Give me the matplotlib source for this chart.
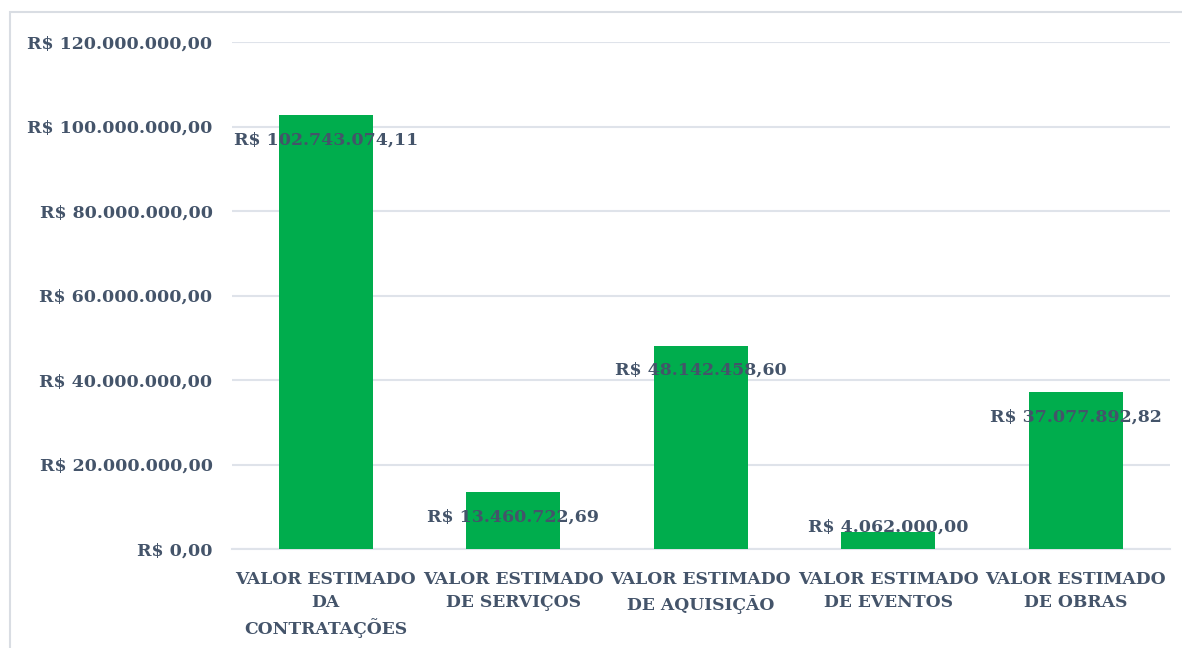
import numpy as np
import matplotlib
matplotlib.use("Agg")
import matplotlib.pyplot as plt
from matplotlib.patches import Rectangle

# dados
categorias = ["VALOR ESTIMADO\nDA\nCONTRATAÇÕES", "VALOR ESTIMADO\nDE SERVIÇOS",
              "VALOR ESTIMADO\nDE AQUISIÇÃO", "VALOR ESTIMADO\nDE EVENTOS",
              "VALOR ESTIMADO\nDE OBRAS"]
valores = [102743074.11, 13460722.69, 48142458.60, 4062000.00, 37077892.82]
rotulos = ["R$ 102.743.074,11", "R$ 13.460.722,69", "R$ 48.142.458,60",
           "R$ 4.062.000,00", "R$ 37.077.892,82"]
ticks_y = [0, 20e6, 40e6, 60e6, 80e6, 100e6, 120e6]
ticks_y_txt = ["R$ 0,00", "R$ 20.000.000,00", "R$ 40.000.000,00", "R$ 60.000.000,00",
               "R$ 80.000.000,00", "R$ 100.000.000,00", "R$ 120.000.000,00"]

cor_txt = "#44546a"
cor_grade = "#dfe3ea"
fonte = "DejaVu Serif"
tam = 12.5

fig = plt.figure(figsize=(11.82, 6.48), dpi=100)
ax = fig.add_axes([232/1182, 1 - 549/648, (1169.5-232)/1182, (549-42)/648])

x = np.arange(len(valores))
ax.bar(x, valores, width=0.5, color="#00ad4d", zorder=3)
ax.set_xlim(-0.5, len(valores) - 0.5)
ax.set_ylim(0, 120e6)

ax.set_yticks(ticks_y)
ax.set_yticklabels(ticks_y_txt, fontsize=tam, fontweight="bold", color=cor_txt, family=fonte)
ax.set_xticks(x)
ax.set_xticklabels(categorias, fontsize=12.3, fontweight="bold", color=cor_txt,
                   family=fonte, linespacing=1.45)
ax.tick_params(axis="both", length=0)
ax.tick_params(axis="y", pad=14)
ax.tick_params(axis="x", pad=16)
ax.grid(axis="y", color=cor_grade, linewidth=1.5, zorder=0)
for s in ["top", "right", "left"]:
    ax.spines[s].set_visible(False)
ax.spines["bottom"].set_color(cor_grade)
ax.spines["bottom"].set_linewidth(1.5)

# rótulos de dados (dentro do topo, limitados acima do eixo)
for xi, v, r in zip(x, valores, rotulos):
    y = max(v - 5.9e6, 5.2e6)
    ax.text(xi, y, r, ha="center", va="center", fontsize=tam, fontweight="bold",
            color=cor_txt, family=fonte, zorder=4)

# borda do gráfico
fig.patches.append(Rectangle((10/1182, -0.05), 1.1, 1.05 - 12/648,
                             transform=fig.transFigure, fill=False,
                             edgecolor="#d9dde3", linewidth=1.5))

fig.savefig("out.png", dpi=100)
